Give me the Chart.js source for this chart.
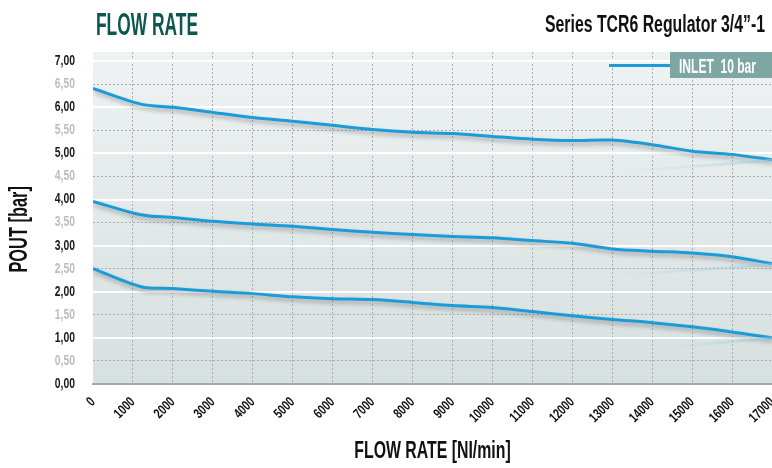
<!DOCTYPE html>
<html><head><meta charset="utf-8">
<script src="https://cdn.jsdelivr.net/npm/chart.js@4/dist/chart.umd.min.js"></script>
<style>
html,body{margin:0;padding:0;background:#fff;width:772px;height:468px;overflow:hidden;}
#wrap{position:relative;width:772px;height:468px;}
canvas{position:absolute;left:0;top:0;}
.t{position:absolute;white-space:nowrap;font-family:'Liberation Sans',Arial,sans-serif;font-weight:bold;line-height:1;transform-origin:0 0;}
</style></head>
<body><div id="wrap">
<canvas id="c" width="772" height="468"></canvas>
<div class="t" id="title" data-w="102" style="left:96px;top:9px;font-size:31px;color:#0e5650;">FLOW RATE</div>
<div class="t" id="sub" data-w="220" style="left:545px;top:13px;font-size:23px;color:#111;">Series TCR6 Regulator 3/4”-1</div>
<div id="legLine" style="position:absolute;left:609px;top:64px;width:61px;height:3px;background:#1b9bd7;"></div>
<div id="legBox" style="position:absolute;left:670px;top:52px;width:102px;height:26px;background:#7ea7a3;"></div>
<div class="t" id="legText" data-w="77" style="left:679px;top:55px;font-size:21px;color:#fff;">INLET&nbsp; 10 bar</div>
</div>
<script>
const flowRate = [0,1200,2000,3000,4000,5000,6000,7000,8000,9000,10000,11000,12000,13000,14000,15000,16000,17000];
const poutHigh = [6.41,6.07,6.00,5.89,5.78,5.70,5.61,5.52,5.46,5.43,5.37,5.31,5.28,5.29,5.19,5.05,4.98,4.86];
const poutMid  = [3.96,3.67,3.61,3.53,3.47,3.42,3.35,3.29,3.24,3.20,3.17,3.11,3.05,2.93,2.88,2.84,2.76,2.61];
const poutLow  = [2.50,2.11,2.07,2.01,1.96,1.89,1.85,1.83,1.77,1.70,1.66,1.57,1.48,1.40,1.33,1.24,1.13,1.00];
const glareHighX = [13100,17000], glareHighY = [4.59,4.85];
const glareMidX  = [12700,17000], glareMidY  = [2.33,2.59];
const glareLowX  = [14000,17000], glareLowY  = [0.76,1.00];
const xTicks = [0,1000,2000,3000,4000,5000,6000,7000,8000,9000,10000,11000,12000,13000,14000,15000,16000,17000];
const yTicks = [0,0.5,1,1.5,2,2.5,3,3.5,4,4.5,5,5.5,6,6.5,7];
const seriesLabel = 'INLET 10 bar';

// fit HTML headings to the condensed widths of the reference
document.querySelectorAll('.t[data-w]').forEach(el => {
  const w = el.getBoundingClientRect().width;
  const target = +el.dataset.w;
  el.style.transform = 'scaleX(' + (target / w) + ')';
});

const FONT = "'Liberation Sans', Arial, sans-serif";
const LINE = '#1b9bd7';
const CONDENSE = {14:0.74, 24:0.66, 26:0.63};

const canvas = document.getElementById('c');
const c2d = canvas.getContext('2d');
const origFill = c2d.fillText;
c2d.fillText = function(text, x, y, maxWidth){
  const m = /(\d+(?:\.\d+)?)px/.exec(this.font);
  const f = m ? (CONDENSE[Math.round(+m[1])] || 1) : 1;
  let mw = this.measureText(text).width * f;
  if (maxWidth !== undefined) mw = Math.min(mw, maxWidth);
  return origFill.call(this, text, x, y, mw);
};

const pts = (xs, ys) => ys.map((y,i)=>({x:xs[i], y}));

function glareColor(startX){
  return (c) => {
    const ch = c.chart, a = ch.chartArea;
    if (!a) return 'rgba(0,0,0,0)';
    const x0 = ch.scales.x.getPixelForValue(startX);
    const g = ch.ctx.createLinearGradient(x0,0,a.right,0);
    g.addColorStop(0,'rgba(180,215,235,0)');
    g.addColorStop(1,'rgba(150,200,228,0.55)');
    return g;
  };
}

const bgPlugin = {id:'bg', beforeDraw(chart){
  const {ctx, chartArea:a} = chart;
  const g = ctx.createLinearGradient(0,a.top,0,a.bottom);
  g.addColorStop(0,'#eef2f2'); g.addColorStop(1,'#d6e0df');
  ctx.save(); ctx.fillStyle = g; ctx.fillRect(a.left,a.top,a.right-a.left,a.bottom-a.top); ctx.restore();
}};
const shadowPlugin = {id:'shadow',
  beforeDatasetDraw(chart,args){ if(chart.data.datasets[args.index].shadow){ const c=chart.ctx; c.save(); c.shadowColor='rgba(40,40,40,0.35)'; c.shadowBlur=4; c.shadowOffsetX=1; c.shadowOffsetY=3; } },
  afterDatasetDraw(chart,args){ if(chart.data.datasets[args.index].shadow){ chart.ctx.restore(); } }
};

const mainDs = (ys) => ({label:seriesLabel, data:pts(flowRate,ys), borderColor:LINE, borderWidth:3, tension:0.3, pointRadius:0, shadow:true, yAxisID:'y'});
const glareDs = (xs, ys) => ({data:pts(xs,ys), borderColor:glareColor(xs[0]), borderWidth:3, tension:0, pointRadius:0, yAxisID:'y'});

new Chart(canvas, {
  type:'line',
  data:{datasets:[
    glareDs(glareHighX,glareHighY), glareDs(glareMidX,glareMidY), glareDs(glareLowX,glareLowY),
    mainDs(poutHigh), mainDs(poutMid), mainDs(poutLow)
  ]},
  options:{
    responsive:false, animation:false, devicePixelRatio:1,
    layout:{padding:{top:52,left:0,right:0,bottom:0}},
    plugins:{legend:{display:false}, tooltip:{enabled:false}},
    scales:{
      x:{type:'linear', min:0, max:17000,
        afterBuildTicks: s => { s.ticks = xTicks.map(v=>({value:v})); },
        ticks:{autoSkip:false, minRotation:45, maxRotation:45, padding:10, color:'#111',
               font:{family:FONT, size:14, weight:'bold'}, callback:v=>String(v)},
        grid:{color:c => (c.tick && c.tick.value>0) ? '#ababab' : 'rgba(0,0,0,0)', lineWidth:1, drawTicks:false},
        border:{display:true, color:'#a2a9a9', width:2, dash:[2,2]},
        title:{display:true, text:'FLOW RATE [NI/min]', color:'#111', font:{family:FONT, size:24, weight:'bold'}, padding:{top:0,bottom:2}},
        afterFit: s => { s.height = 84; s.paddingLeft = 0; s.paddingRight = 0; }
      },
      y:{min:0, max:7.2,
        afterBuildTicks: s => { s.ticks = yTicks.map(v=>({value:v})); },
        ticks:{autoSkip:false, padding:18, color:c => (c.tick && Number.isInteger(c.tick.value)) ? '#1a1a1a' : '#bdbdbd',
               font:{family:FONT, size:14, weight:'bold'}, callback:v=>Number(v).toFixed(2).replace('.',',')},
        grid:{color:c => (c.tick && !Number.isInteger(c.tick.value)) ? '#ababab' : 'rgba(0,0,0,0)', lineWidth:1, drawTicks:false},
        border:{display:false, dash:[2,2]},
        title:{display:true, text:'POUT [bar]\u00a0\u00a0\u00a0\u00a0\u00a0', color:'#111', font:{family:FONT, size:26, weight:'bold'}, padding:{top:4,bottom:0}},
        afterFit: s => { s.width = 93; }
      },
      yInt:{position:'right', min:0, max:7.2,
        afterBuildTicks: s => { s.ticks = yTicks.filter(v=>Number.isInteger(v) && v>0).map(v=>({value:v})); },
        ticks:{display:false},
        grid:{color:'rgba(255,255,255,0.95)', lineWidth:2, drawTicks:false},
        border:{display:false},
        afterFit: s => { s.width = 0; }
      }
    }
  },
  plugins:[bgPlugin, shadowPlugin]
});
</script>
</body></html>
